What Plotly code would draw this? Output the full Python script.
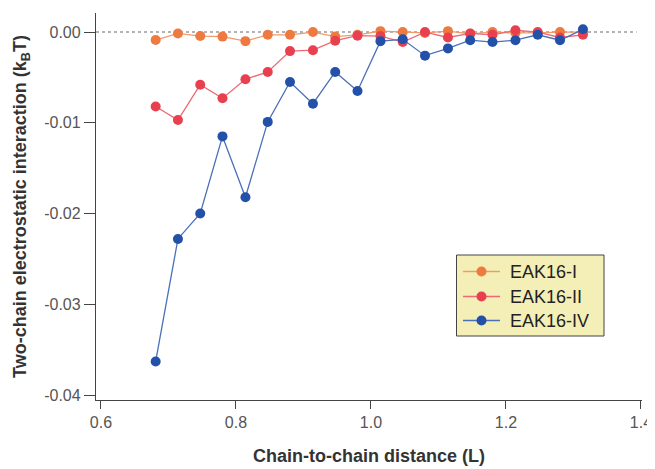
import plotly.graph_objects as go

distance = [0.681, 0.714, 0.747, 0.780, 0.814, 0.847, 0.880, 0.914, 0.947, 0.980,
            1.014, 1.047, 1.080, 1.114, 1.147, 1.180, 1.214, 1.247, 1.280, 1.314]

eak16_i = [-0.00088, -0.00015, -0.00044, -0.0005, -0.0010, -0.0003, -0.0003, 0.0000, -0.0005, -0.0003,
           0.0001, 0.0000, -0.0001, 0.0001, -0.0002, 0.0000, -0.0001, -0.0001, 0.0000, 0.0000]
eak16_ii = [-0.0082, -0.0097, -0.0058, -0.0073, -0.0052, -0.0044, -0.0021, -0.0020, -0.00095, -0.0004,
            -0.00044, -0.0011, 0.0000, -0.0006, -0.00015, -0.0003, 0.0002, 0.0000, -0.0006, -0.0003]
eak16_iv = [-0.0363, -0.0228, -0.0200, -0.0115, -0.0182, -0.0099, -0.0055, -0.0079, -0.0044, -0.0065,
            -0.0010, -0.0008, -0.0026, -0.0018, -0.0009, -0.0011, -0.0009, -0.0003, -0.0009, 0.0003]

series_names = ["EAK16-I", "EAK16-II", "EAK16-IV"]
series_values = [eak16_i, eak16_ii, eak16_iv]
marker_colors = ["#ef7a3f", "#e8404f", "#2350a8"]
line_colors = ["#f29a6c", "#ec6a74", "#4a70b8"]

x_ticks = [0.6, 0.8, 1.0, 1.2, 1.4]
x_tick_labels = ["0.6", "0.8", "1.0", "1.2", "1.4"]
y_ticks = [0.0, -0.01, -0.02, -0.03, -0.04]
y_tick_labels = ["0.00", "-0.01", "-0.02", "-0.03", "-0.04"]

FONT = "Liberation Sans, Arial, sans-serif"

# The page body has an 8px margin, so the figure is drawn 8px in from the corner.
OFF = 8
W, H = 655 - OFF, 469 - OFF
# target plot area on the page: x 96..642, y 13..400
ML, MR, MT, MB = 96 - OFF, 655 - 642, 13 - OFF, 469 - 400
PW, PH = W - ML - MR, H - MT - MB


def px(x):
    return (x - OFF - ML) / PW


def py(y):
    return (H - MB - (y - OFF)) / PH


fig = go.Figure()
for name, vals, mc, lc in zip(series_names, series_values, marker_colors, line_colors):
    fig.add_trace(go.Scatter(
        x=distance, y=vals, name=name, mode="lines+markers",
        line=dict(color=lc, width=1.3),
        marker=dict(color=mc, size=10),
        showlegend=False,
    ))

fig.add_shape(type="line", xref="paper", yref="y", x0=0, x1=0.99, y0=0, y1=0,
              line=dict(color="#9a9a9a", width=1.5, dash="dot"), layer="below")

# legend box
fig.add_shape(type="rect", xref="paper", yref="paper",
              x0=px(456.5), x1=px(604), y0=py(336), y1=py(255),
              fillcolor="#f4efb6", line=dict(color="#444444", width=1))
row_y = [271.5, 296.5, 320.5]
for name, mc, lc, ry in zip(series_names, marker_colors, line_colors, row_y):
    fig.add_shape(type="line", xref="paper", yref="paper",
                  x0=px(463), x1=px(500), y0=py(ry), y1=py(ry),
                  line=dict(color=lc, width=1.5))
    fig.add_shape(type="circle", xref="paper", yref="paper",
                  xsizemode="pixel", ysizemode="pixel",
                  xanchor=px(481.5), yanchor=py(ry),
                  x0=-5, x1=5, y0=-5, y1=5,
                  fillcolor=mc, line=dict(color=mc, width=0))
    fig.add_annotation(xref="paper", yref="paper", x=px(508), y=py(ry),
                       xanchor="left", yanchor="middle", showarrow=False,
                       text=name, font=dict(family=FONT, size=18, color="#222222"))

fig.update_layout(
    width=W, height=H,
    margin=dict(l=ML, r=MR, t=MT, b=MB),
    plot_bgcolor="white", paper_bgcolor="white",
    font=dict(family=FONT, size=16, color="#555555"),
    showlegend=False,
    xaxis=dict(
        range=[0.5926, 1.4015], automargin=False,
        tickvals=x_ticks, ticktext=x_tick_labels,
        ticks="outside", ticklen=8, tickwidth=1.3, tickcolor="#444444",
        tickfont=dict(family=FONT, size=16, color="#555555"),
        showline=True, linecolor="#444444", linewidth=1.3,
        showgrid=False, zeroline=False,
        title=dict(text="<b>Chain-to-chain distance (L)</b>",
                   font=dict(family=FONT, size=18, color="#333333"), standoff=19),
    ),
    yaxis=dict(
        range=[-0.04055, 0.0021], automargin=False,
        tickvals=y_ticks, ticktext=y_tick_labels,
        ticks="outside", ticklen=11, tickwidth=1.3, tickcolor="#444444",
        tickfont=dict(family=FONT, size=16, color="#555555"),
        showline=True, linecolor="#444444", linewidth=1.3,
        showgrid=False, zeroline=False,
        title=dict(text="<b>Two-chain electrostatic interaction (k<sub>B</sub>T)</b>",
                   font=dict(family=FONT, size=18, color="#333333"), standoff=12),
    ),
)

fig.write_html("out.html")
